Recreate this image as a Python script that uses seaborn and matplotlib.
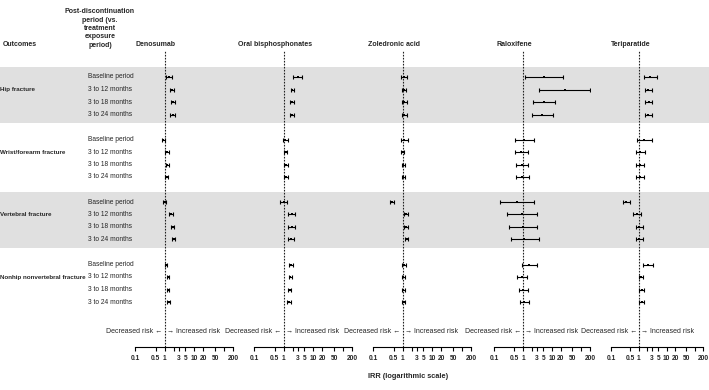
import numpy as np
import pandas as pd
import matplotlib
matplotlib.use("Agg")
import matplotlib.pyplot as plt
import seaborn as sns

# ---- data (IRR and 95% CI) ----
outcomes = ['Hip fracture', 'Wrist/forearm fracture', 'Vertebral fracture', 'Nonhip nonvertebral fracture']
periods = ['Baseline period', '3 to 12 months', '3 to 18 months', '3 to 24 months']
drugs = ['Denosumab', 'Oral bisphosphonates', 'Zoledronic acid', 'Raloxifene', 'Teriparatide']

den_est = [1.4, 1.75, 1.95, 1.85, 0.9, 1.2, 1.22, 1.17, 1.0, 1.6, 1.85, 2.0, 1.1, 1.32, 1.3, 1.35]
den_lo = [1.15, 1.5, 1.65, 1.55, 0.79, 1.05, 1.07, 1.02, 0.88, 1.4, 1.6, 1.75, 1.0, 1.2, 1.18, 1.22]
den_hi = [1.75, 2.05, 2.3, 2.2, 1.05, 1.35, 1.38, 1.33, 1.15, 1.85, 2.1, 2.3, 1.22, 1.45, 1.43, 1.48]

oral_est = [2.95, 1.95, 1.85, 1.85, 1.15, 1.17, 1.2, 1.2, 1.0, 1.85, 1.85, 1.75, 1.75, 1.68, 1.6, 1.5]
oral_lo = [2.1, 1.7, 1.6, 1.6, 0.92, 1.03, 1.05, 1.05, 0.77, 1.45, 1.45, 1.4, 1.55, 1.5, 1.43, 1.34]
oral_hi = [4.0, 2.3, 2.15, 2.2, 1.45, 1.33, 1.37, 1.37, 1.3, 2.4, 2.4, 2.25, 2.0, 1.9, 1.8, 1.7]

zol_est = [1.1, 1.11, 1.15, 1.15, 1.1, 1.02, 1.04, 1.04, 0.45, 1.33, 1.3, 1.36, 1.1, 1.05, 1.05, 1.1]
zol_lo = [0.86, 0.95, 0.98, 0.98, 0.86, 0.9, 0.92, 0.92, 0.38, 1.15, 1.12, 1.18, 0.95, 0.93, 0.93, 0.97]
zol_hi = [1.35, 1.3, 1.35, 1.35, 1.5, 1.15, 1.17, 1.17, 0.52, 1.55, 1.5, 1.56, 1.3, 1.18, 1.18, 1.24]

ral_est = [5.3, 28, 5.3, 4.6, 1.08, 0.85, 0.9, 0.95, 0.61, 0.9, 1.0, 1.1, 1.66, 0.92, 1.0, 1.08]
ral_lo = [1.14, 3.6, 2.2, 2.1, 0.52, 0.51, 0.55, 0.58, 0.167, 0.29, 0.33, 0.38, 0.9, 0.64, 0.71, 0.77]
ral_hi = [23.5, 200, 12.6, 10.7, 2.33, 1.53, 1.53, 1.66, 2.33, 2.9, 2.9, 3.4, 3.0, 1.37, 1.48, 1.6]

ter_est = [2.48, 2.15, 2.28, 2.15, 1.5, 1.1, 1.1, 1.12, 0.35, 0.87, 1.02, 1.02, 2.15, 1.2, 1.3, 1.28]
ter_lo = [1.47, 1.6, 1.65, 1.65, 0.85, 0.76, 0.8, 0.82, 0.26, 0.62, 0.82, 0.8, 1.43, 1.0, 1.05, 1.05]
ter_hi = [4.4, 3.0, 3.0, 2.9, 2.9, 1.6, 1.5, 1.55, 0.49, 1.2, 1.35, 1.35, 3.2, 1.4, 1.55, 1.5]

tick_vals = [0.1, 0.5, 1, 2, 3, 5, 10, 20, 50, 100, 200]
tick_labels = ['0.1', '0.5', '1', '', '3', '5', '10', '20', '50', '', '200']

estimates = [den_est, oral_est, zol_est, ral_est, ter_est]
lowers = [den_lo, oral_lo, zol_lo, ral_lo, ter_lo]
uppers = [den_hi, oral_hi, zol_hi, ral_hi, ter_hi]

# long table
rows = []
for d, drug in enumerate(drugs):
    for g, outc in enumerate(outcomes):
        for i, per in enumerate(periods):
            k = g * 4 + i
            rows.append(dict(drug=drug, outcome=outc, period=per, ypos=g * 5 + i,
                             est=estimates[d][k], lo=lowers[d][k], hi=uppers[d][k]))
df = pd.DataFrame(rows)

# ---- style ----
sns.set_theme(style='white')
plt.rcParams['font.family'] = ['Liberation Sans', 'DejaVu Sans']
fs = 5

W, H = 709, 390
fig = plt.figure(figsize=(W / 100, H / 100), dpi=100)

ax_top, ax_bot = 50, 347
y_top, y_bot = -2.16, 21.6
bottom = 1 - ax_bot / H
height = (ax_bot - ax_top) / H

# background axes: gray bands and left text columns
bg = fig.add_axes([0, bottom, 1, height], zorder=0)
bg.set_xlim(0, W)
bg.set_ylim(y_bot, y_top)
bg.axis('off')
for g in [0, 2]:
    bg.axhspan(g * 5 - 0.8, g * 5 + 3.7, color='#e0e0e0', lw=0)
for g, outc in enumerate(outcomes):
    bg.text(0.5, g * 5 + 1, outc, fontsize=4.5, fontweight='bold', va='center', ha='left')
    for i, per in enumerate(periods):
        bg.text(88, g * 5 + i, per, fontsize=4.8, va='center', ha='left')

fig.text(3 / W, 1 - 45 / H, 'Outcomes', fontsize=fs, fontweight='bold', va='center', ha='left')
fig.text(100 / W, 1 - 49 / H, 'Post-discontinuation\nperiod (vs.\ntreatment\nexposure\nperiod)',
         fontsize=fs, fontweight='bold', va='bottom', ha='center', linespacing=1.3)

panel_px = [(135, 233), (254, 352), (373, 471), (494, 590), (611, 703)]

for d, drug in enumerate(drugs):
    x0, x1 = panel_px[d]
    ax = fig.add_axes([x0 / W, bottom, (x1 - x0) / W, height], zorder=2)
    ax.patch.set_alpha(0)
    sub = df[df.drug == drug]
    ax.errorbar(sub.est, sub.ypos, xerr=[sub.est - sub.lo, sub.hi - sub.est], fmt='none',
                ecolor='black', elinewidth=0.8, capsize=1.7, capthick=0.8, zorder=3)
    sns.scatterplot(data=sub, x='est', y='ypos', ax=ax, color='black', marker='s',
                    s=3, linewidth=0, zorder=4, legend=False)
    ax.set_xscale('log')
    ax.set_xlim(0.1, 200)
    ax.set_ylim(y_bot, y_top)
    ax.axvline(1, color='#222222', lw=0.8, ls=(0, (1.5, 1.2)), zorder=1)
    ax.set_xticks(tick_vals)
    ax.set_xticklabels(tick_labels)
    ax.xaxis.set_minor_locator(matplotlib.ticker.NullLocator())
    ax.set_yticks([])
    ax.set_xlabel('')
    ax.set_ylabel('')
    for s in ['top', 'left', 'right']:
        ax.spines[s].set_visible(False)
    ax.spines['bottom'].set_color('black')
    ax.spines['bottom'].set_linewidth(0.8)
    ax.tick_params(axis='x', direction='out', length=3, width=0.8, color='black',
                   labelsize=4.8, pad=2.5, bottom=True)
    for lab in ax.get_xticklabels():
        lab.set_fontweight('bold')
    ax.text(0.5, 1 + 5 / (ax_bot - ax_top), drug, transform=ax.get_xaxis_transform(),
            fontsize=fs, fontweight='bold', ha='center', va='center')
    ax.text(0.85, 20.4, 'Decreased risk \u2190', fontsize=fs, ha='right', va='center')
    ax.text(1.18, 20.4, '\u2192 Increased risk', fontsize=fs, ha='left', va='center')

fig.text(408 / W, 1 - 377 / H, 'IRR (logarithmic scale)', fontsize=5.3, fontweight='bold',
         ha='center', va='center')

fig.savefig('out.png', dpi=100)
